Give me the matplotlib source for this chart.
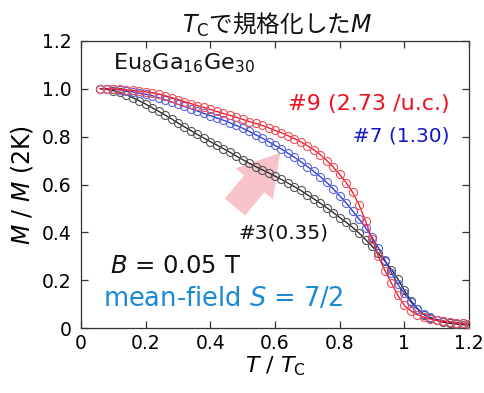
import numpy as np
import matplotlib
matplotlib.use('Agg')
import matplotlib.pyplot as plt

# T / Tc grid and normalised magnetisation M / M(2K)
t_tc = [0.06, 0.08, 0.10, 0.12, 0.14, 0.16, 0.18, 0.20, 0.22, 0.24,
        0.26, 0.28, 0.30, 0.32, 0.34, 0.36, 0.38, 0.40, 0.42, 0.44,
        0.46, 0.48, 0.50, 0.52, 0.54, 0.56, 0.58, 0.60, 0.62, 0.64,
        0.66, 0.68, 0.70, 0.72, 0.74, 0.76, 0.78, 0.80, 0.82, 0.84,
        0.86, 0.88, 0.90, 0.92, 0.94, 0.96, 0.98, 1.00, 1.02, 1.04,
        1.06, 1.08, 1.10, 1.12, 1.14, 1.16, 1.18, 1.20]

m_s9 = [1.000, 1.000, 0.999, 0.998, 0.996, 0.993, 0.990, 0.987, 0.983, 0.978,
        0.971, 0.963, 0.955, 0.946, 0.938, 0.930, 0.922, 0.914, 0.905, 0.897,
        0.889, 0.881, 0.872, 0.863, 0.856, 0.847, 0.837, 0.826, 0.816, 0.804,
        0.792, 0.778, 0.762, 0.745, 0.725, 0.700, 0.673, 0.642, 0.608, 0.568,
        0.515, 0.448, 0.373, 0.300, 0.240, 0.188, 0.138, 0.095, 0.072, 0.056,
        0.046, 0.039, 0.033, 0.029, 0.026, 0.023, 0.020, 0.018]

m_s7 = [1.000, 0.999, 0.998, 0.995, 0.991, 0.987, 0.982, 0.977, 0.971, 0.963,
        0.954, 0.945, 0.935, 0.926, 0.917, 0.907, 0.897, 0.888, 0.878, 0.869,
        0.858, 0.847, 0.835, 0.822, 0.808, 0.794, 0.779, 0.763, 0.748, 0.731,
        0.714, 0.695, 0.675, 0.655, 0.633, 0.609, 0.582, 0.553, 0.523, 0.490,
        0.456, 0.420, 0.380, 0.335, 0.283, 0.232, 0.183, 0.145, 0.110, 0.080,
        0.058, 0.045, 0.036, 0.030, 0.026, 0.023, 0.020, 0.018]

m_s3 = [1.000, 0.997, 0.992, 0.985, 0.975, 0.963, 0.950, 0.936, 0.921, 0.906,
        0.890, 0.874, 0.857, 0.841, 0.825, 0.809, 0.794, 0.779, 0.765, 0.750,
        0.735, 0.719, 0.704, 0.689, 0.675, 0.662, 0.649, 0.635, 0.621, 0.606,
        0.591, 0.575, 0.557, 0.540, 0.522, 0.503, 0.483, 0.462, 0.442, 0.421,
        0.397, 0.370, 0.343, 0.312, 0.280, 0.245, 0.205, 0.158, 0.115, 0.082,
        0.057, 0.042, 0.032, 0.025, 0.020, 0.017, 0.014, 0.013]

xticks = [0, 0.2, 0.4, 0.6, 0.8, 1.0, 1.2]
xticklabels = ['0', '0.2', '0.4', '0.6', '0.8', '1', '1.2']
yticks = [0, 0.2, 0.4, 0.6, 0.8, 1.0, 1.2]
yticklabels = ['0', '0.2', '0.4', '0.6', '0.8', '1.0', '1.2']

plt.rcParams['font.family'] = ['DejaVu Sans']
plt.rcParams['mathtext.fontset'] = 'dejavusans'

fig = plt.figure(figsize=(4.85, 3.93), dpi=100)
ax = fig.add_axes([0.167, 0.165, 0.800, 0.731])

# samples: (values, line colour, marker colour)
for m, lc, mc in [(m_s3, '#1a1a1a', '#555555'),
                  (m_s7, '#1f2fd6', '#5a66e0'),
                  (m_s9, '#ee1020', '#f0505c')]:
    ax.plot(t_tc, m, '-', color=lc, lw=0.9, zorder=3)
    ax.plot(t_tc, m, 'o', mfc='none', mec=mc, ms=5.8, mew=0.8, zorder=3)

# pink arrow pointing to increasing carrier density
ax.annotate('', xy=(0.616, 0.732), xytext=(0.476, 0.506),
            arrowprops=dict(arrowstyle='simple,head_width=3.5,head_length=2.9,tail_width=1.9',
                            mutation_scale=10, color='#f9c3cb', lw=0,
                            shrinkA=0, shrinkB=0), zorder=1)

ax.set_xlim(0, 1.2)
ax.set_ylim(0, 1.2)
ax.set_xticks(xticks)
ax.set_xticklabels(xticklabels)
ax.set_yticks(yticks)
ax.set_yticklabels(yticklabels)
ax.tick_params(direction='in', top=True, right=True, length=5, width=0.9,
               labelsize=13.5, color='#333333')
ax.tick_params(axis='x', pad=4)
ax.tick_params(axis='y', pad=7)
for s in ax.spines.values():
    s.set_linewidth(0.9)
    s.set_color('#333333')

ax.set_xlabel(r'$T$ / $T_\mathrm{C}$', fontsize=16, labelpad=1)
ax.set_ylabel(r'$M$ / $M$ (2K)', fontsize=17, labelpad=5)

ax.text(0.099, 1.081, r'Eu$_8$Ga$_{16}$Ge$_{30}$', fontsize=16, color='#111111')
ax.text(1.141, 0.913, '#9 (2.73 /u.c.)', fontsize=16, color='#f01020', ha='right')
ax.text(1.141, 0.780, '#7 (1.30)', fontsize=14.5, color='#1515c8', ha='right')
ax.text(0.486, 0.376, '#3(0.35)', fontsize=14.5, color='#111111')
ax.text(0.090, 0.229, r'$B$ = 0.05 T', fontsize=17.5, color='#111111')
ax.text(0.068, 0.094, r'mean-field $S$ = 7/2', fontsize=18.5, color='#1a8ad4')

fig.text(0.571, 0.916, r'$T_\mathrm{C}$で規格化した$M$', family='Noto Sans CJK JP',
         fontsize=17, ha='center', va='baseline', color='#111111')

fig.savefig('out.png', dpi=100)
